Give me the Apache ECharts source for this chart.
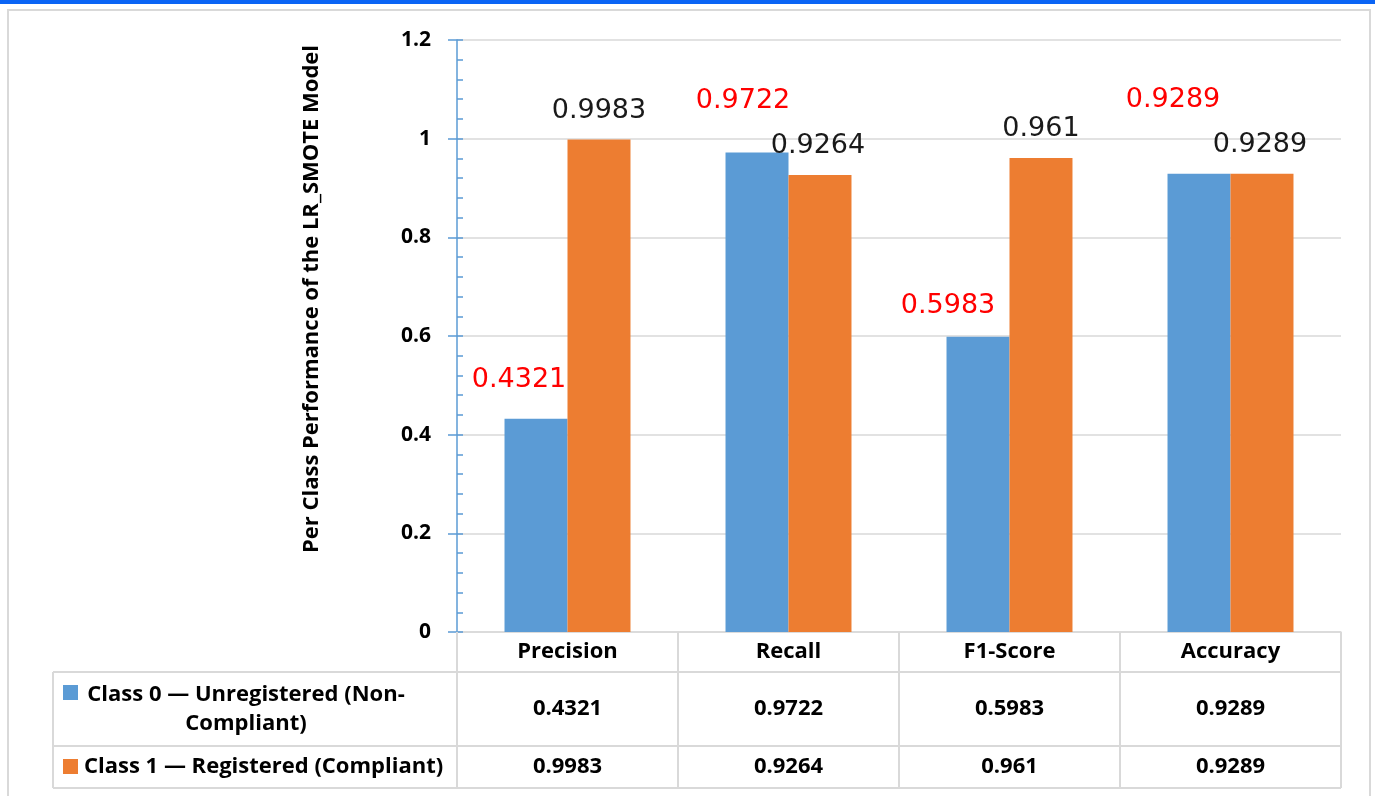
<!DOCTYPE html>
<html>
<head>
<meta charset="utf-8">
<script src="https://cdn.jsdelivr.net/npm/echarts@6/dist/echarts.min.js"></script>
<style>
html,body{margin:0;padding:0;background:#fff;}
#chart{width:1375px;height:796px;}
</style>
</head>
<body>
<div id="chart"></div>
<script>
// ---- data ----
const categories = ['Precision', 'Recall', 'F1-Score', 'Accuracy'];
const seriesNames = ['Class 0 — Unregistered (Non-Compliant)', 'Class 1 — Registered (Compliant)'];
const rowLabels = ['Class 0 — Unregistered (Non-\nCompliant)', 'Class 1 — Registered (Compliant)'];
const class0 = [0.4321, 0.9722, 0.5983, 0.9289];
const class1 = [0.9983, 0.9264, 0.961, 0.9289];
const yMin = 0, yMax = 1.2, yInterval = 0.2;
const yTitle = 'Per Class Performance of the LR_SMOTE Model';

// ---- styles / layout ----
const colors = ['#5b9bd5', '#ed7d31'];
const labelColors = ['#ff0000', '#1a1a1a'];
const class0LabelOffsets = [[-17, -10], [-14, -23], [-30, -2], [-26, -45]];
const class1LabelOffsets = [[0, 0], [-2, 0], [0, 0], [-2, 0]];
const G = {left: 457, right: 1341, top: 40, bottom: 632};
const tableRows = [632, 672, 746, 788];
const tableLeft = 53;
const lineColor = '#d9d9d9';
const boldFont = '"Open Sans", "Noto Sans", sans-serif';
const boldSize = 22;

const chart = echarts.init(document.getElementById('chart'), null, {renderer: 'canvas'});

function barData(vals, offs) {
  return vals.map((v, i) => ({value: v, label: {offset: offs[i]}}));
}

const option = {
  backgroundColor: '#fff',
  animation: false,
  grid: {left: G.left, right: 1375 - G.right, top: G.top, bottom: 796 - G.bottom, containLabel: false},
  xAxis: {
    type: 'category',
    data: categories,
    axisLine: {show: true, lineStyle: {color: lineColor, width: 1.5}},
    axisTick: {show: false},
    axisLabel: {margin: 9, fontSize: boldSize, fontWeight: 'bold', color: '#000', fontFamily: boldFont}
  },
  yAxis: [{
    type: 'value', min: yMin, max: yMax, interval: yInterval,
    axisLine: {show: true, lineStyle: {color: '#5b9bd5', width: 1.5}},
    axisTick: {show: true, inside: false, length: 9, lineStyle: {color: '#5b9bd5', width: 1.5}},
    splitLine: {show: true, lineStyle: {color: lineColor, width: 1.5}},
    axisLabel: {margin: 26, fontSize: 21, fontWeight: 'bold', color: '#000', fontFamily: boldFont,
      formatter: v => String(Math.round(v * 10) / 10)}
  }, {
    type: 'value', min: yMin, max: yMax, interval: yInterval, position: 'left',
    axisLine: {show: false},
    axisTick: {show: true, inside: true, length: 6, lineStyle: {color: '#5b9bd5', width: 1.5}},
    minorTick: {show: true, splitNumber: 5, length: 6, lineStyle: {color: '#5b9bd5', width: 1.5}},
    splitLine: {show: false},
    axisLabel: {show: false}
  }],
  series: [{
    name: seriesNames[0], type: 'bar', yAxisIndex: 0,
    data: barData(class0, class0LabelOffsets),
    barGap: '0%', barCategoryGap: '43%',
    itemStyle: {color: colors[0]},
    label: {show: true, position: 'top', distance: 15, color: labelColors[0], fontSize: 27,
      fontFamily: '"DejaVu Sans", sans-serif', formatter: p => String(p.value)}
  }, {
    name: seriesNames[1], type: 'bar', yAxisIndex: 0,
    data: barData(class1, class1LabelOffsets),
    barGap: '0%', barCategoryGap: '43%',
    itemStyle: {color: colors[1]},
    label: {show: true, position: 'top', distance: 15, color: labelColors[1], fontSize: 27,
      fontFamily: '"DejaVu Sans", sans-serif', formatter: p => String(p.value)}
  }]
};
chart.setOption(option);

// ---- data table & decorations ----
const centers = categories.map((c, i) => chart.convertToPixel({xAxisIndex: 0}, i));
const band = (G.right - G.left) / categories.length;
const g = [];
g.push({type: 'rect', shape: {x: 0, y: 0, width: 1375, height: 4}, style: {fill: '#0a64f5'}, z: 100});
g.push({type: 'rect', shape: {x: 8, y: 10, width: 1362, height: 820}, style: {fill: null, stroke: lineColor, lineWidth: 2}, z: 100, silent: true});
g.push({type: 'text', x: 312, y: 299, rotation: Math.PI / 2,
  style: {text: yTitle, align: 'center', verticalAlign: 'middle', fontSize: boldSize, fontWeight: 'bold', fill: '#000', fontFamily: boldFont}, z: 100});
const lineStyle = {stroke: lineColor, lineWidth: 2};
for (let k = 1; k < tableRows.length; k++) {
  g.push({type: 'line', shape: {x1: tableLeft, y1: tableRows[k], x2: G.right, y2: tableRows[k]}, style: lineStyle, z: 100});
}
g.push({type: 'line', shape: {x1: tableLeft, y1: tableRows[1], x2: tableLeft, y2: tableRows[3]}, style: lineStyle, z: 100});
for (let i = 0; i <= categories.length; i++) {
  const x = G.left + band * i;
  g.push({type: 'line', shape: {x1: x, y1: tableRows[0], x2: x, y2: tableRows[3]}, style: lineStyle, z: 100});
}
const rowVals = [class0, class1];
const keyY = [685, 759];
g.push({type: 'rect', shape: {x: 63, y: keyY[0], width: 15, height: 15}, style: {fill: colors[0]}, z: 100});
g.push({type: 'rect', shape: {x: 63, y: keyY[1], width: 15, height: 15}, style: {fill: colors[1]}, z: 100});
g.push({type: 'text', x: 246, y: (tableRows[1] + tableRows[2]) / 2,
  style: {text: rowLabels[0], align: 'center', verticalAlign: 'middle', fontSize: boldSize, lineHeight: 29, fontWeight: 'bold', fill: '#000', fontFamily: boldFont}, z: 100});
g.push({type: 'text', x: 84, y: (tableRows[2] + tableRows[3]) / 2,
  style: {text: rowLabels[1], align: 'left', verticalAlign: 'middle', fontSize: boldSize, fontWeight: 'bold', fill: '#000', fontFamily: boldFont}, z: 100});
for (let r = 0; r < 2; r++) {
  const cy = (tableRows[r + 1] + tableRows[r + 2]) / 2;
  rowVals[r].forEach((v, i) => {
    g.push({type: 'text', x: centers[i], y: cy,
      style: {text: String(v), align: 'center', verticalAlign: 'middle', fontSize: boldSize, fontWeight: 'bold', fill: '#000', fontFamily: boldFont}, z: 100});
  });
}
chart.setOption({graphic: g});
</script>
</body>
</html>
